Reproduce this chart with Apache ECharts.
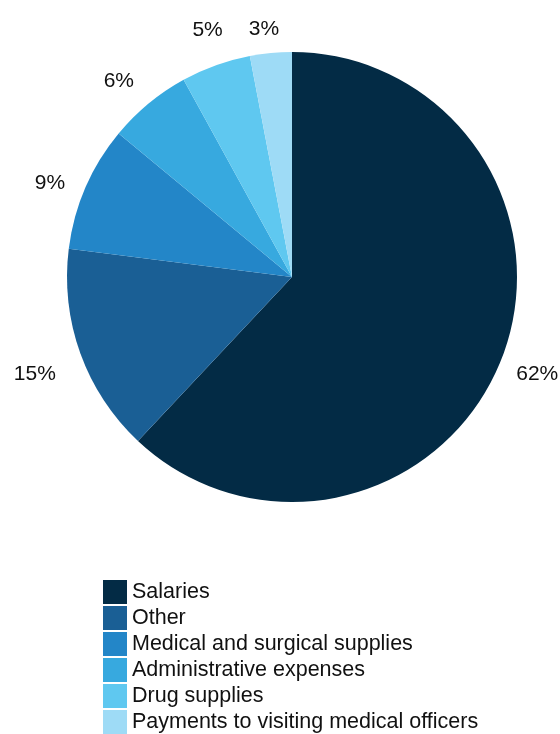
<!DOCTYPE html>
<html><head><meta charset="utf-8">
<script src="https://cdn.jsdelivr.net/npm/echarts@6/dist/echarts.min.js"></script>
<style>html,body{margin:0;padding:0;background:#fff}#c{width:560px;height:734px}</style>
</head><body><div id="c"></div>
<script>
const categories = ["Salaries","Other","Medical and surgical supplies","Administrative expenses","Drug supplies","Payments to visiting medical officers"];
const values = [62, 15, 9, 6, 5, 3];
const colors = ["#032b45","#1a5f95","#2386c8","#37a9df","#5fc8f0","#9edbf6"];
// small per-label nudges (style only)
const labelNudge = [[-3,-1],[-6,7],[3,12],[-3,10],[6,4],[-3,18]];

const chart = echarts.init(document.getElementById('c'), null, {renderer:'canvas'});
const pieData = categories.map((n,i)=>({name:n, value:values[i], itemStyle:{color:colors[i]}}));
chart.setOption({
  animation:false,
  textStyle:{fontFamily:'Liberation Sans, Arial, sans-serif'},
  legend:{
    orient:'vertical', left:103, top:580, height:200, padding:0,
    itemWidth:24, itemHeight:24, itemGap:2, icon:'rect',
    textStyle:{fontSize:21.5, lineHeight:24, color:'#111'},
    data:categories
  },
  series:[
    {type:'pie', center:[292,277], radius:[0,225], startAngle:90, clockwise:true,
     label:{show:false}, labelLine:{show:false}, silent:true, data:pieData},
    {type:'pie', center:[292,277], radius:[255,273], startAngle:90, clockwise:true,
     silent:true, legendHoverLink:false,
     itemStyle:{color:'rgba(0,0,0,0)'},
     label:{show:true, position:'inside', formatter:'{c}%', fontSize:21, color:'#111'},
     labelLine:{show:false},
     labelLayout:function(p){ const n=labelNudge[p.dataIndex]; return {dx:n[0], dy:n[1]}; },
     data:categories.map((n,i)=>({name:n+' ', value:values[i]}))}
  ]
});
</script></body></html>
